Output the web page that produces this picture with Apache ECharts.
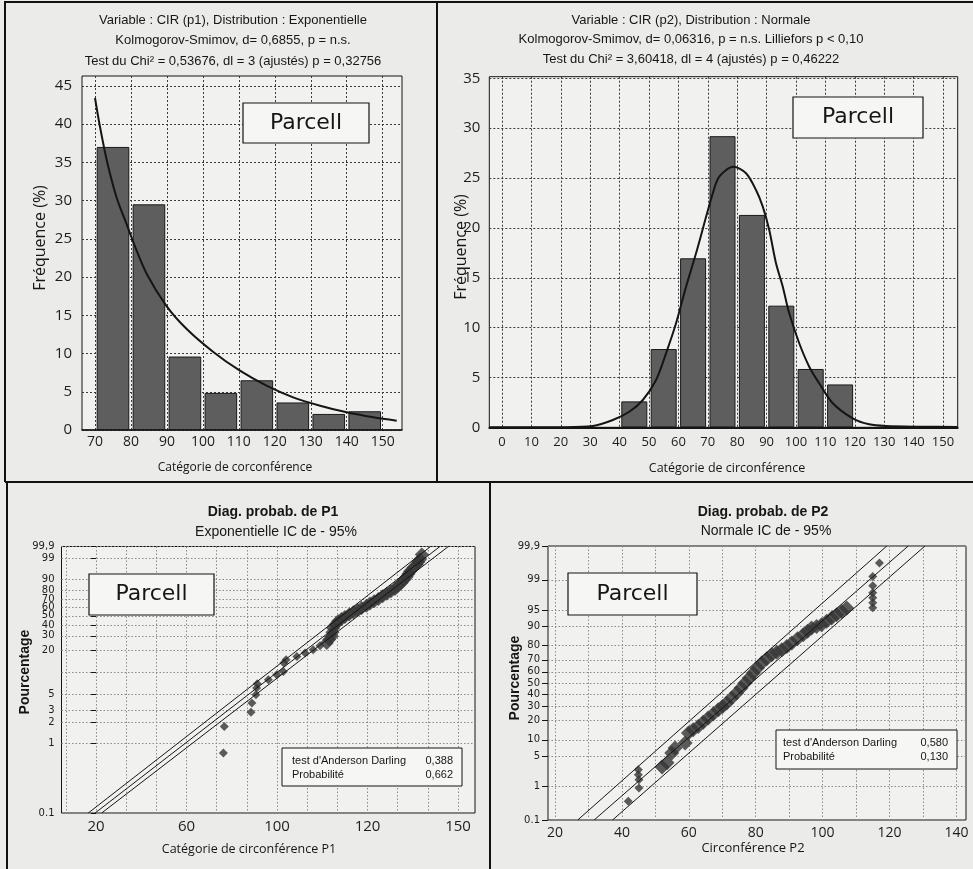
<!DOCTYPE html>
<html>
<head>
<meta charset="utf-8">
<title>CIR P1 / P2</title>
<script src="https://cdn.jsdelivr.net/npm/echarts@6.0.0/dist/echarts.min.js"></script>
<style>
html,body{margin:0;padding:0;background:#ebebe9;}
#chart{width:973px;height:869px;}
</style>
</head>
<body>
<div id="chart"></div>
<script>
// ================= DATA =================
// Top-left histogram (P1, exponential)
const p1BinStart = [70, 80, 90, 100, 110, 120, 130, 140];
const p1BinFreq  = [37.0, 29.5, 9.6, 4.85, 6.5, 3.6, 2.1, 2.45];
const p1CurveX = [70.0, 71.4, 73.3, 76.0, 78.8, 80.7, 84.4, 89.9, 95.5, 102.9, 110.3, 117.7, 125.1, 132.6, 140.0, 147.4, 153.9];
const p1CurveY = [43.4, 39.6, 35.2, 30.4, 26.9, 24.5, 20.4, 16.2, 13.2, 10.2, 7.75, 5.79, 4.27, 3.18, 2.31, 1.66, 1.22];
const p1XTicks = [70, 80, 90, 100, 110, 120, 130, 140, 150];
const p1YTicks = [0, 5, 10, 15, 20, 25, 30, 35, 40, 45];

// Top-right histogram (P2, normal)
const p2BinStart = [40, 50, 60, 70, 80, 90, 100, 110];
const p2BinFreq  = [2.6, 7.85, 16.95, 29.2, 21.3, 12.2, 5.85, 4.3];
const p2CurveX = [-4.3, 10, 20, 30.9, 37.7, 43.3, 47.9, 52.4, 55.8, 59.2, 62.6, 66.0, 71.7, 73.9, 78.7, 83.0, 86.4, 88.7, 90.9, 93.2, 95.5, 97.7, 101.1, 104.5, 107.9, 112.5, 119.3, 124.9, 130.6, 141.9, 155.0];
const p2CurveY = [0, 0, 0.01, 0.13, 0.73, 1.56, 2.74, 4.74, 7.42, 10.43, 14.10, 17.45, 23.47, 25.14, 26.14, 25.48, 23.80, 22.13, 19.79, 16.45, 14.10, 11.43, 8.43, 6.08, 4.41, 2.41, 0.90, 0.30, 0.13, 0.06, 0.03];
const p2XTicks = [0, 10, 20, 30, 40, 50, 60, 70, 80, 90, 100, 110, 120, 130, 140, 150];
const p2YTicks = [0, 5, 10, 15, 20, 25, 30, 35];

// Bottom-left probability plot (P1, exponential)
const pp1XTicks = [20, 60, 100, 120, 150];
const pp1YGridPct  = [0.1, 1, 2, 3, 5, 10, 20, 30, 40, 50, 60, 70, 80, 90, 99, 99.9];
const pp1YLabelPct = [0.1, 1, 2, 3, 5, 20, 30, 40, 50, 60, 70, 80, 90, 99, 99.9];
const pp1YLabelText = ['0.1', '1', '2', '3', '5', '20', '30', '40', '50', '60', '70', '80', '90', '99', '99,9'];
const pp1PointX = [76.3, 76.7, 88.5, 88.9, 90.7, 91.0, 91.3, 96.2, 99.9, 101.4, 101.5, 102.0, 104.4, 106.2, 108.0, 109.5];
const pp1PointY = [0.73, 1.75, 2.80, 3.76, 4.93, 6.11, 7.02, 7.98, 9.35, 10.38, 13.49, 14.93, 16.5, 18.28, 20.18, 22.69];
const pp1BandX = [111.0, 111.55, 112.1, 112.25, 112.4, 112.95, 113.5, 114.25, 115.0, 115.95, 116.9, 117.8, 118.7, 119.75, 120.8, 122.2, 123.6, 125.0, 126.4, 127.75, 129.1, 130.2, 131.3, 132.15, 133.0, 133.55, 134.1, 135.2, 136.3, 136.85, 137.4, 138.0];
const pp1BandY = [24.55, 27.0, 29.58, 33.2, 37.09, 40.5, 43.87, 46.3, 48.74, 51.4, 54.11, 56.8, 59.39, 62.0, 64.65, 67.6, 70.34, 73.4, 76.19, 79.0, 81.62, 84.7, 87.37, 89.9, 91.99, 93.8, 95.22, 96.7, 97.76, 98.4, 98.87, 99.50];
const pp1LineY = [0.1, 99.9];
const pp1UpperX = [16.6, 140.9];
const pp1FitX   = [19.6, 144.0];
const pp1LowerX = [22.5, 146.8];

// Bottom-right probability plot (P2, normal)
const pp2XTicks = [20, 40, 60, 80, 100, 120, 140];
const pp2XGrid  = [20, 30, 40, 50, 60, 70, 80, 90, 100, 110, 120, 130, 140];
const pp2YLabelPct  = [0.1, 1, 5, 10, 20, 30, 40, 50, 60, 70, 80, 90, 95, 99, 99.9];
const pp2YLabelText = ['0.1', '1', '5', '10', '20', '30', '40', '50', '60', '70', '80', '90', '95', '99', '99,9'];
const pp2PointX = [41.9, 45.1, 45.1, 44.9, 44.9, 117.0, 115.0, 115.0, 115.0, 115.0, 115.0, 115.0];
const pp2PointY = [0.38, 0.89, 1.46, 1.93, 2.53, 99.66, 99.19, 98.59, 97.92, 97.28, 96.49, 95.52];
const pp2BandX = [52.0, 53.5, 54.9, 55.9, 58.9, 59.9, 61.3, 62.8, 64.3, 65.8, 67.3, 68.8, 70.1, 71.3, 72.8, 74.3, 75.6, 76.8, 78.1, 79.3, 80.5, 81.8, 83.3, 84.8, 86.3, 87.8, 89.3, 90.8, 92.5, 94.2, 95.5, 96.7, 98.2, 99.7, 101.2, 102.7, 104.2, 105.7, 107.2];
const pp2BandY = [2.9, 3.6, 5.72, 7.13, 8.80, 12.97, 14.6, 16.38, 18.8, 21.5, 24.3, 27.36, 29.9, 32.6, 36.8, 41.08, 45.5, 50, 54.5, 58.92, 63.2, 67.4, 70.8, 73.83, 75.6, 77.37, 79.5, 81.65, 84.1, 86.19, 87.8, 89.25, 89.9, 90.57, 91.8, 92.87, 93.8, 94.68, 95.46];
const pp2LineY = [0.1, 99.9];
const pp2UpperX = [26.8, 119.2];
const pp2FitX   = [31.7, 125.6];
const pp2LowerX = [37.2, 130.6];

// ================= SCALES =================
function weib(pct) { return Math.log(-Math.log(1 - pct / 100)); }
function probit(p) {
  const a = [-3.969683028665376e+01, 2.209460984245205e+02, -2.759285104469687e+02, 1.383577518672690e+02, -3.066479806614716e+01, 2.506628277459239e+00];
  const b = [-5.447609879822406e+01, 1.615858368580409e+02, -1.556989798598866e+02, 6.680131188771972e+01, -1.328068155288572e+01];
  const c = [-7.784894002430293e-03, -3.223964580411365e-01, -2.400758277161838e+00, -2.549732539343734e+00, 4.374664141464968e+00, 2.938163982698783e+00];
  const d = [7.784695709041462e-03, 3.224671290700398e-01, 2.445134137142996e+00, 3.754408661907416e+00];
  const pl = 0.02425, ph = 1 - pl;
  let q, r;
  if (p < pl) { q = Math.sqrt(-2 * Math.log(p)); return (((((c[0]*q+c[1])*q+c[2])*q+c[3])*q+c[4])*q+c[5]) / ((((d[0]*q+d[1])*q+d[2])*q+d[3])*q+1); }
  if (p > ph) { q = Math.sqrt(-2 * Math.log(1 - p)); return -(((((c[0]*q+c[1])*q+c[2])*q+c[3])*q+c[4])*q+c[5]) / ((((d[0]*q+d[1])*q+d[2])*q+d[3])*q+1); }
  q = p - 0.5; r = q * q;
  return (((((a[0]*r+a[1])*r+a[2])*r+a[3])*r+a[4])*r+a[5]) * q / (((((b[0]*r+b[1])*r+b[2])*r+b[3])*r+b[4])*r+1);
}
function nrm(pct) { return probit(pct / 100); }
// piecewise position along the (irregular) P1 circumference axis, in tick-index units
function pp1Pos(v) {
  const t = pp1XTicks, n = t.length;
  let i = 0;
  while (i < n - 2 && v > t[i + 1]) i++;
  return i + (v - t[i]) / (t[i + 1] - t[i]);
}
function zip(xs, ys, fx, fy) { return xs.map((x, i) => [fx ? fx(x) : x, fy ? fy(ys[i]) : ys[i]]); }
function nearestLabel(values, texts) {
  return function (v) {
    let best = 0, bd = Infinity;
    values.forEach((w, i) => { const dd = Math.abs(w - v); if (dd < bd) { bd = dd; best = i; } });
    return texts[best];
  };
}

// ================= LAYOUT =================
const F_TITLE = '"Liberation Sans", Arial, sans-serif';
const F_TICK = '"Open Sans", "Noto Sans", sans-serif';
const F_BOX = '"DejaVu Sans", sans-serif';
const INK = '#151515';
const PLOT_BG = '#f1f1ef';

const TL = { x0: 82, x1: 402, y0: 76, y1: 430, ref: [[70, 95], [150, 382.7]], yppu: 7.65 };
const TR = { x0: 489.3, x1: 957.7, y0: 76.7, y1: 427.3, ref: [[0, 502], [150, 943]], yppu: 9.97 };
const BL = { x0: 61.5, x1: 475, y0: 546.5, y1: 813, ref: [[0, 96], [1, 186.5]] };
const BR = { x0: 548, x1: 966, y0: 546, y1: 820, ref: [[20, 555], [140, 956.4]] };

function xRange(f) {
  const ppu = (f.ref[1][1] - f.ref[0][1]) / (f.ref[1][0] - f.ref[0][0]);
  return [f.ref[0][0] - (f.ref[0][1] - f.x0) / ppu, f.ref[0][0] + (f.x1 - f.ref[0][1]) / ppu];
}
function gridOf(f) {
  return { left: f.x0, top: f.y0, width: f.x1 - f.x0, height: f.y1 - f.y0, show: true,
    backgroundColor: PLOT_BG, borderColor: INK, borderWidth: 1, containLabel: false };
}
const tlX = xRange(TL), trX = xRange(TR), blX = xRange(BL), brX = xRange(BR);

const gridTop = { color: '#3a3a3a', type: [2, 2], width: 1 };
const gridBot = { color: '#8a8a8a', type: [1.5, 2], width: 1 };

const blMinor = [];
for (let k = -1; k <= 12; k++) { const v = k / 3; if (v > blX[0] && v < blX[1]) blMinor.push(v); }

const option = {
  backgroundColor: '#ebebe9',
  animation: false,
  textStyle: { fontFamily: F_TICK },
  grid: [gridOf(TL), gridOf(TR), gridOf(BL), gridOf(BR)],
  xAxis: [
    { type: 'value', gridIndex: 0, min: tlX[0], max: tlX[1],
      axisLine: { show: true, onZero: false, lineStyle: { color: INK, width: 1.5 } },
      axisTick: { show: false, customValues: p1XTicks },
      axisLabel: { customValues: p1XTicks, fontSize: 14, color: '#1d1d1d', margin: 5, fontFamily: F_TICK },
      splitLine: { show: true, lineStyle: gridTop } },
    { type: 'value', gridIndex: 1, min: trX[0], max: trX[1],
      axisLine: { show: true, onZero: false, lineStyle: { color: INK, width: 2 } },
      axisTick: { show: false, customValues: p2XTicks },
      axisLabel: { customValues: p2XTicks, fontSize: 13, color: '#1d1d1d', margin: 8, fontFamily: F_TICK },
      splitLine: { show: true, lineStyle: gridTop } },
    { type: 'value', gridIndex: 2, min: blX[0], max: blX[1],
      axisLine: { show: false },
      axisTick: { show: false, customValues: blMinor },
      axisLabel: { customValues: pp1XTicks.map((t, i) => i), formatter: v => String(pp1XTicks[Math.round(v)]),
        fontSize: 15, color: '#1d1d1d', margin: 6, fontFamily: F_TICK },
      splitLine: { show: true, lineStyle: gridBot } },
    { type: 'value', gridIndex: 3, min: brX[0], max: brX[1],
      axisLine: { show: false },
      axisTick: { show: false, customValues: pp2XGrid },
      axisLabel: { customValues: pp2XTicks, fontSize: 14, color: '#1d1d1d', margin: 6, fontFamily: F_TICK },
      splitLine: { show: true, lineStyle: gridBot } }
  ],
  yAxis: [
    { type: 'value', gridIndex: 0, min: 0, max: (TL.y1 - TL.y0) / TL.yppu,
      axisLine: { show: false }, axisTick: { show: false, customValues: p1YTicks },
      axisLabel: { customValues: p1YTicks, fontSize: 15, color: '#1d1d1d', margin: 10, fontFamily: F_TICK },
      splitLine: { show: true, lineStyle: gridTop } },
    { type: 'value', gridIndex: 1, min: 0, max: (TR.y1 - TR.y0) / TR.yppu,
      axisLine: { show: false }, axisTick: { show: false, customValues: p2YTicks },
      axisLabel: { customValues: p2YTicks, fontSize: 15, color: '#1d1d1d', margin: 9, fontFamily: F_TICK },
      splitLine: { show: true, lineStyle: gridTop } },
    { type: 'value', gridIndex: 2, min: weib(0.1), max: weib(99.9),
      axisLine: { show: false },
      axisTick: { show: true, inside: false, length: 5, customValues: pp1YGridPct.map(weib), lineStyle: { color: INK } },
      axisLabel: { customValues: pp1YLabelPct.map(weib), formatter: nearestLabel(pp1YLabelPct.map(weib), pp1YLabelText),
        fontSize: 10, color: '#1d1d1d', margin: 7, fontFamily: F_BOX },
      splitLine: { show: true, lineStyle: gridBot } },
    { type: 'value', gridIndex: 3, min: nrm(0.1), max: nrm(99.9),
      axisLine: { show: false },
      axisTick: { show: true, inside: false, length: 6, customValues: pp2YLabelPct.map(nrm), lineStyle: { color: INK } },
      axisLabel: { customValues: pp2YLabelPct.map(nrm), formatter: nearestLabel(pp2YLabelPct.map(nrm), pp2YLabelText),
        fontSize: 10, color: '#1d1d1d', margin: 8, fontFamily: F_BOX },
      splitLine: { show: true, lineStyle: gridBot } }
  ],
  series: [
    { type: 'bar', xAxisIndex: 0, yAxisIndex: 0, barWidth: 32.6, silent: true,
      data: p1BinStart.map((b, i) => [b + (p1BinStart[1] - p1BinStart[0]) / 2, p1BinFreq[i]]),
      itemStyle: { color: '#5e5e5e', borderColor: '#1a1a1a', borderWidth: 1 } },
    { type: 'line', xAxisIndex: 0, yAxisIndex: 0, data: zip(p1CurveX, p1CurveY), smooth: 0.3,
      showSymbol: false, silent: true, z: 4, lineStyle: { color: INK, width: 2 } },
    { type: 'bar', xAxisIndex: 1, yAxisIndex: 1, barWidth: 26, silent: true,
      data: p2BinStart.map((b, i) => [b + (p2BinStart[1] - p2BinStart[0]) / 2, p2BinFreq[i]]),
      itemStyle: { color: '#5e5e5e', borderColor: '#1a1a1a', borderWidth: 1 } },
    { type: 'line', xAxisIndex: 1, yAxisIndex: 1, data: zip(p2CurveX, p2CurveY), smooth: 0.3,
      showSymbol: false, silent: true, z: 4, lineStyle: { color: INK, width: 2 } },

    { type: 'line', xAxisIndex: 2, yAxisIndex: 2, data: zip(pp1UpperX, pp1LineY, pp1Pos, weib), showSymbol: false, silent: true, lineStyle: { color: INK, width: 1 } },
    { type: 'line', xAxisIndex: 2, yAxisIndex: 2, data: zip(pp1FitX, pp1LineY, pp1Pos, weib), showSymbol: false, silent: true, lineStyle: { color: INK, width: 1 } },
    { type: 'line', xAxisIndex: 2, yAxisIndex: 2, data: zip(pp1LowerX, pp1LineY, pp1Pos, weib), showSymbol: false, silent: true, lineStyle: { color: INK, width: 1 } },
    { type: 'scatter', xAxisIndex: 2, yAxisIndex: 2, data: zip(pp1PointX, pp1PointY, pp1Pos, weib), symbol: 'diamond', symbolSize: 9, silent: true, itemStyle: { color: '#353535' } },
    { type: 'scatter', xAxisIndex: 2, yAxisIndex: 2, data: zip(pp1BandX, pp1BandY, pp1Pos, weib), symbol: 'diamond', symbolSize: 14, silent: true, itemStyle: { color: '#353535' } },

    { type: 'line', xAxisIndex: 3, yAxisIndex: 3, data: zip(pp2UpperX, pp2LineY, null, nrm), showSymbol: false, silent: true, lineStyle: { color: INK, width: 1 } },
    { type: 'line', xAxisIndex: 3, yAxisIndex: 3, data: zip(pp2FitX, pp2LineY, null, nrm), showSymbol: false, silent: true, lineStyle: { color: INK, width: 1 } },
    { type: 'line', xAxisIndex: 3, yAxisIndex: 3, data: zip(pp2LowerX, pp2LineY, null, nrm), showSymbol: false, silent: true, lineStyle: { color: INK, width: 1 } },
    { type: 'scatter', xAxisIndex: 3, yAxisIndex: 3, data: zip(pp2PointX, pp2PointY, null, nrm), symbol: 'diamond', symbolSize: 9, silent: true, itemStyle: { color: '#353535' } },
    { type: 'scatter', xAxisIndex: 3, yAxisIndex: 3, data: zip(pp2BandX, pp2BandY, null, nrm), symbol: 'diamond', symbolSize: 15, silent: true, itemStyle: { color: '#353535' } }
  ],
  graphic: []
};

// ---------- decorations (texts, boxes, panel frames) ----------
const G = option.graphic;
function txt(x, y, text, font, align, rot) {
  G.push({ type: 'text', x: x, y: y, rotation: rot || 0, z: 20, silent: true,
    style: { text: text, font: font, fill: '#161616', align: align || 'center', verticalAlign: 'middle',
      textAlign: align || 'center', textVerticalAlign: 'middle' } });
}
function box(x, y, w, h, lw) {
  G.push({ type: 'rect', z: 15, silent: true, shape: { x: x, y: y, width: w, height: h },
    style: { fill: '#f6f6f5', stroke: INK, lineWidth: lw || 1 } });
}
function line(x1, y1, x2, y2) {
  G.push({ type: 'line', z: 25, silent: true, shape: { x1: x1, y1: y1, x2: x2, y2: y2 },
    style: { stroke: '#111', lineWidth: 2 } });
}

// panel frames
line(4, 2, 973, 2);
line(5, 2, 5, 482);
line(437, 2, 437, 482);
line(5, 482, 973, 482);
line(7, 482, 7, 869);
line(490, 482, 490, 869);

// top-left titles
txt(233, 20, 'Variable : CIR (p1), Distribution : Exponentielle', '13px ' + F_TITLE);
txt(233, 40.5, 'Kolmogorov-Smimov, d= 0,6855, p = n.s.', '13px ' + F_TITLE);
txt(233, 61, 'Test du Chi² = 0,53676, dl = 3 (ajustés) p = 0,32756', '13px ' + F_TITLE);
txt(40, 238, 'Fréquence (%)', '16px ' + F_TICK, 'center', Math.PI / 2);
txt(235, 468, 'Catégorie de corconférence', '12px ' + F_TICK);

// top-right titles
txt(691, 20, 'Variable : CIR (p2), Distribution : Normale', '13px ' + F_TITLE);
txt(691, 39.5, 'Kolmogorov-Smimov, d= 0,06316, p = n.s. Lilliefors p < 0,10', '13px ' + F_TITLE);
txt(691, 59, 'Test du Chi² = 3,60418, dl = 4 (ajustés) p = 0,46222', '13px ' + F_TITLE);
txt(461, 247, 'Fréquence (%)', '16px ' + F_TICK, 'center', Math.PI / 2);
txt(727, 468, 'Catégorie de circonférence', '12.5px ' + F_TICK);

// bottom-left titles
txt(273, 512, 'Diag. probab. de P1', 'bold 14px ' + F_TITLE);
txt(276, 532, 'Exponentielle IC de - 95%', '14px ' + F_TITLE);
txt(25, 672, 'Pourcentage', 'bold 14px ' + F_TITLE, 'center', Math.PI / 2);
txt(249, 849, 'Catégorie de circonférence P1', '12.5px ' + F_TICK);

// bottom-right titles
txt(763, 512, 'Diag. probab. de P2', 'bold 14px ' + F_TITLE);
txt(766, 531, 'Normale IC de - 95%', '14px ' + F_TITLE);
txt(515, 678, 'Pourcentage', 'bold 14px ' + F_TITLE, 'center', Math.PI / 2);
txt(753, 848, 'Circonférence P2', '13px ' + F_TICK);

// "Parcell" boxes
box(243, 103, 126, 40, 1.2); txt(306, 123, 'Parcell', '22px ' + F_BOX);
box(793, 97, 130, 41, 1.2);  txt(858, 117.5, 'Parcell', '22px ' + F_BOX);
box(89, 574, 125, 41, 1.2);  txt(151.5, 594.5, 'Parcell', '22px ' + F_BOX);
box(568, 573, 129, 42, 1.2); txt(632.5, 594, 'Parcell', '22px ' + F_BOX);

// Anderson-Darling boxes
box(282, 748, 180, 38, 1);
txt(292, 761, "test d'Anderson Darling", '11px ' + F_TITLE, 'left');
txt(453, 761, '0,388', '11px ' + F_TITLE, 'right');
txt(292, 775, 'Probabilité', '11px ' + F_TITLE, 'left');
txt(453, 775, '0,662', '11px ' + F_TITLE, 'right');
box(776, 730, 181, 39, 1);
txt(783, 742.5, "test d'Anderson Darling", '11px ' + F_TITLE, 'left');
txt(948, 742.5, '0,580', '11px ' + F_TITLE, 'right');
txt(783, 757, 'Probabilité', '11px ' + F_TITLE, 'left');
txt(948, 757, '0,130', '11px ' + F_TITLE, 'right');

const chart = echarts.init(document.getElementById('chart'));
chart.setOption(option);
</script>
</body>
</html>
